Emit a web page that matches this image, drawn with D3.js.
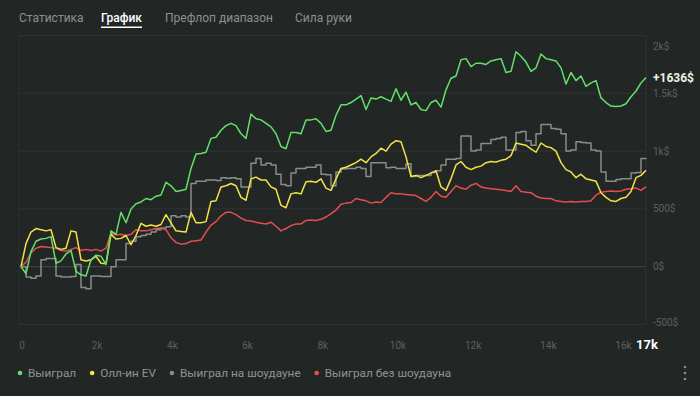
<!DOCTYPE html>
<html>
<head>
<meta charset="utf-8">
<script src="https://cdn.jsdelivr.net/npm/d3@7"></script>
<style>
	body { margin: 0; background: #222726; }
	svg { display: block; font-family: Roboto, 'Noto Sans', sans-serif; }
</style>
</head>
<body>
<svg id="canvas" width="700" height="396"></svg>
<script>
let tabLabels = ['Статистика', 'График', 'Префлоп диапазон', 'Сила руки'];
let tabStarts = [19, 101, 165, 295];
let activeTab = 1;

let seriesNames = ['Выиграл', 'Олл-ин EV', 'Выиграл на шоудауне', 'Выиграл без шоудауна'];
let seriesColors = ['#62e069', '#f3e247', '#8b8c8c', '#e44e4e'];

let xTicks = [0, 2000, 4000, 6000, 8000, 10000, 12000, 14000, 16000];
let yTicks = [-500, 0, 500, 1000, 1500, 2000];
let yTickLabels = ['-500$', '0$', '500$', '1k$', '1.5k$', '2k$'];
let totalHandsLabel = '17k';
let resultLabel = '+1636$';

// hand number of every point
let hands = [
	0, 133, 266, 399, 532, 665, 798, 931, 1064, 1197,
	1330, 1463, 1596, 1729, 1862, 1995, 2128, 2261, 2394, 2527,
	2660, 2793, 2926, 3059, 3192, 3325, 3458, 3591, 3724, 3857,
	3990, 4123, 4256, 4389, 4522, 4655, 4788, 4921, 5054, 5187,
	5320, 5453, 5586, 5719, 5852, 5985, 6118, 6251, 6384, 6517,
	6650, 6783, 6916, 7049, 7182, 7315, 7448, 7581, 7714, 7847,
	7980, 8113, 8246, 8379, 8512, 8645, 8778, 8911, 9044, 9177,
	9310, 9443, 9576, 9709, 9842, 9975, 10108, 10241, 10374, 10507,
	10640, 10773, 10906, 11039, 11172, 11305, 11438, 11571, 11704, 11837,
	11970, 12103, 12236, 12369, 12502, 12635, 12768, 12901, 13034, 13167,
	13300, 13433, 13566, 13699, 13832, 13965, 14098, 14231, 14364, 14497,
	14630, 14763, 14896, 15029, 15162, 15295, 15428, 15561, 15694, 15827,
	15960, 16093, 16226, 16359, 16492, 16625
];

let wonValues = [
	0, -60, 130, 220, 240, 245, 260, 30, 50, 110,
	140, -40, -70, -80, 60, 100, 90, 20, 310, 280,
	470, 380, 500, 545, 560, 590, 580, 610, 620, 730,
	700, 650, 660, 670, 850, 975, 980, 990, 1110, 1120,
	1180, 1220, 1240, 1220, 1150, 1110, 1320, 1280, 1270, 1240,
	1210, 1150, 1040, 1020, 1160, 1160, 1150, 1270, 1270, 1280,
	1240, 1170, 1180, 1310, 1400, 1400, 1420, 1450, 1480, 1360,
	1460, 1450, 1470, 1450, 1430, 1540, 1440, 1510, 1400, 1420,
	1360, 1350, 1420, 1440, 1380, 1530, 1630, 1650, 1790, 1800,
	1730, 1760, 1760, 1750, 1780, 1790, 1800, 1680, 1690, 1860,
	1820, 1770, 1690, 1720, 1840, 1800, 1790, 1780, 1720, 1580,
	1680, 1610, 1650, 1560, 1590, 1610, 1460, 1420, 1390, 1385,
	1390, 1410, 1470, 1520, 1590, 1636
];

let allinEvValues = [
	0, 200, 300, 330, 320, 310, 320, 165, 150, 160,
	310, 300, 60, 50, 60, 90, 30, 25, 280, 240,
	245, 270, 190, 270, 375, 350, 360, 350, 365, 450,
	380, 310, 305, 300, 470, 380, 380, 390, 565, 570,
	690, 700, 720, 700, 600, 575, 760, 775, 750, 750,
	690, 670, 530, 510, 630, 640, 630, 735, 740, 730,
	760, 680, 660, 760, 850, 860, 880, 900, 930, 900,
	950, 980, 1025, 1000, 1060, 1090, 1080, 950, 780, 790,
	770, 790, 810, 830, 690, 660, 760, 880, 910, 860,
	840, 860, 870, 900, 910, 905, 920, 930, 960, 1070,
	1060, 1050, 1020, 990, 1070, 1040, 1030, 1000, 900, 840,
	820, 770, 800, 760, 750, 740, 640, 600, 570, 565,
	590, 600, 650, 770, 790, 835
];

let showdownValues = [
	0, -90, -100, -80, 60, 70, 70, -80, -90, -90,
	-85, 20, -180, -190, -80, -80, -85, -85, 0, 60,
	60, 200, 220, 260, 270, 280, 300, 320, 335, 345,
	440, 430, 440, 430, 720, 740, 740, 750, 750, 745,
	770, 765, 770, 760, 690, 690, 895, 935, 880, 895,
	880, 800, 710, 700, 810, 850, 850, 860, 860, 880,
	800, 795, 700, 820, 845, 850, 850, 860, 850, 780,
	900, 900, 900, 855, 860, 850, 850, 890, 780, 790,
	790, 790, 815, 830, 880, 930, 930, 935, 1130, 1130,
	1000, 1010, 1065, 1065, 1100, 1110, 1120, 1010, 1010, 1160,
	1170, 1090, 1050, 1150, 1230, 1230, 1195, 1190, 1150, 1000,
	1010, 1080, 1075, 1070, 1010, 1000, 820, 740, 740, 755,
	760, 760, 810, 815, 935, 940
];

let nonShowdownValues = [
	0, 40, 120, 160, 175, 170, 165, 160, 140, 135,
	150, 165, 140, 150, 140, 150, 135, 160, 290, 275,
	280, 270, 280, 320, 310, 310, 320, 330, 335, 320,
	250, 210, 195, 200, 220, 225, 230, 300, 360, 390,
	440, 470, 470, 450, 420, 400, 395, 385, 375, 370,
	385, 350, 310, 330, 355, 370, 370, 400, 405, 400,
	410, 430, 460, 490, 540, 550, 555, 590, 580, 570,
	550, 560, 555, 600, 640, 630, 630, 625, 620, 615,
	590, 565, 600, 650, 610, 600, 650, 700, 680, 670,
	705, 720, 690, 680, 675, 670, 665, 660, 650, 700,
	650, 645, 640, 610, 595, 590, 590, 570, 565, 560,
	565, 560, 565, 565, 570, 620, 645, 650, 655, 650,
	655, 670, 675, 680, 660, 690
];

let canvas = d3.select('#canvas');

let plotLeft = 19;
let plotRight = 646;
let plotTop = 35.5;
let plotBottom = 324.5;

let xScale = d3.scaleLinear().domain([0, 16625]).range([21, plotRight]);
let yScale = d3.scaleLinear().domain([-500, 2000]).range([plotBottom, plotTop]);

let drawTabs = () => {
	tabLabels.forEach((label, i) => {
		let text = canvas
			.append('text')
			.attr('x', tabStarts[i])
			.attr('y', 21.5)
			.attr('font-size', 12)
			.attr('fill', i === activeTab ? '#ffffff' : '#8b908e')
			.attr('font-weight', i === activeTab ? 500 : 400)
			.text(label);
		if (i === activeTab) {
			let w = text.node().getComputedTextLength();
			canvas
				.append('rect')
				.attr('x', tabStarts[i])
				.attr('y', 26.5)
				.attr('width', w)
				.attr('height', 1.5)
				.attr('fill', '#ffffff');
		}
	});
};

let drawGrid = () => {
	canvas
		.selectAll('.grid')
		.data(yTicks)
		.enter()
		.append('line')
		.attr('class', 'grid')
		.attr('x1', plotLeft)
		.attr('x2', plotRight)
		.attr('y1', (v) => yScale(v))
		.attr('y2', (v) => yScale(v))
		.attr('stroke', (v) => (v === 0 ? '#454a48' : '#2f3432'))
		.attr('stroke-width', 1);

	canvas
		.append('line')
		.attr('x1', plotLeft)
		.attr('x2', plotLeft)
		.attr('y1', plotTop)
		.attr('y2', plotBottom)
		.attr('stroke', '#2b302e');
	canvas
		.append('line')
		.attr('x1', plotRight)
		.attr('x2', plotRight)
		.attr('y1', plotTop)
		.attr('y2', plotBottom)
		.attr('stroke', '#2f3432');
};

let drawAxes = () => {
	canvas
		.selectAll('.ylabel')
		.data(yTicks)
		.enter()
		.append('text')
		.attr('class', 'ylabel')
		.attr('x', 653)
		.attr('y', (v) => Math.min(Math.max(yScale(v), 46), 322) + 3.5)
		.attr('font-size', 10)
		.attr('fill', '#5c615f')
		.text((v, i) => yTickLabels[i]);

	canvas
		.selectAll('.xlabel')
		.data(xTicks)
		.enter()
		.append('text')
		.attr('class', 'xlabel')
		.attr('x', (v) => xScale(v) + 1)
		.attr('y', 348.5)
		.attr('font-size', 10)
		.attr('text-anchor', 'middle')
		.attr('fill', '#5c615f')
		.text((v) => (v === 0 ? '0' : v / 1000 + 'k'));

	canvas
		.append('text')
		.attr('x', 647)
		.attr('y', 349)
		.attr('font-size', 13)
		.attr('font-weight', 700)
		.attr('text-anchor', 'middle')
		.attr('fill', '#ffffff')
		.text(totalHandsLabel);
};

let drawLines = () => {
	let seriesList = [wonValues, allinEvValues, showdownValues, nonShowdownValues];
	let order = [2, 3, 1, 0];

	order.forEach((s) => {
		let points = hands.map((h, i) => [h, seriesList[s][i]]);
		let line = d3
			.line()
			.x((d) => xScale(d[0]))
			.y((d) => yScale(d[1]))
			.curve(s === 2 ? d3.curveStepAfter : d3.curveLinear);
		canvas
			.append('path')
			.datum(points)
			.attr('d', line)
			.attr('fill', 'none')
			.attr('stroke', seriesColors[s])
			.attr('stroke-width', 1.5)
			.attr('stroke-linejoin', 'round');
	});

	let last = wonValues[wonValues.length - 1];
	canvas
		.append('text')
		.attr('x', 653)
		.attr('y', yScale(last) + 4)
		.attr('font-size', 12)
		.attr('font-weight', 700)
		.attr('fill', '#eaf3e2')
		.text(resultLabel);
};

let drawLegend = () => {
	let x = 20;
	seriesNames.forEach((name, i) => {
		canvas
			.append('circle')
			.attr('cx', x)
			.attr('cy', 373)
			.attr('r', 2.3)
			.attr('fill', seriesColors[i]);
		let text = canvas
			.append('text')
			.attr('x', x + 8)
			.attr('y', 377)
			.attr('font-size', 11.8)
			.attr('fill', '#8f9492')
			.text(name);
		x += 8 + text.node().getComputedTextLength() + 16;
	});

	canvas
		.selectAll('.menu')
		.data([-6, 0, 6])
		.enter()
		.append('circle')
		.attr('cx', 685)
		.attr('cy', (d) => 373 + d)
		.attr('r', 1.3)
		.attr('fill', '#8b908e');
};

drawTabs();
drawGrid();
drawAxes();
drawLines();
drawLegend();
</script>
</body>
</html>
